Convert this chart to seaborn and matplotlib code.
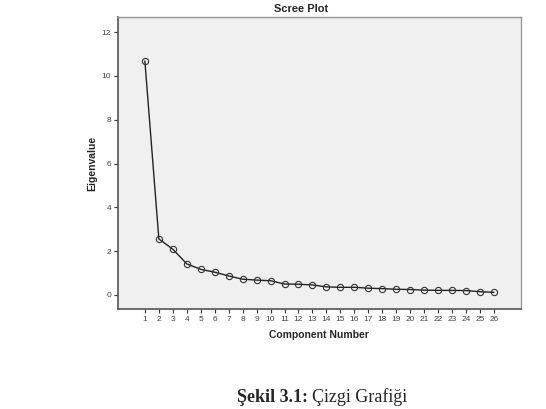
import pandas as pd
import matplotlib.pyplot as plt
import seaborn as sns

components = list(range(1, 27))
eigenvalues = [10.68, 2.56, 2.09, 1.42, 1.17, 1.04, 0.87, 0.72, 0.68, 0.65,
               0.50, 0.49, 0.46, 0.37, 0.35, 0.35, 0.31, 0.29, 0.26, 0.25,
               0.22, 0.21, 0.21, 0.20, 0.15, 0.12]
yticks = [0, 2, 4, 6, 8, 10, 12]

df = pd.DataFrame({'Component Number': components, 'Eigenvalue': eigenvalues})

sns.set_style("white")
plt.rcParams['font.family'] = ['Liberation Sans', 'DejaVu Sans']

fig = plt.figure(figsize=(5.46, 4.09), dpi=100)
ax = fig.add_axes([0.216, 0.2445, 0.738, 0.7135])
ax.set_facecolor('#f0f0f0')

sns.lineplot(data=df, x='Component Number', y='Eigenvalue', ax=ax,
             color='#222222', linewidth=1.0, marker='o', markersize=4.5,
             markerfacecolor='none', markeredgecolor='#333333', markeredgewidth=0.8)

ax.set_xlim(-0.93, 27.93)
ax.set_ylim(-0.64, 12.68)
ax.set_xticks(components)
ax.set_yticks(yticks)
ax.tick_params(axis='both', direction='out', length=3, width=0.8, color='#333333',
               labelsize=6, labelcolor='#444444', pad=2)
ax.tick_params(axis='both', which='both', bottom=True, left=True)

for side in ['left', 'bottom']:
    ax.spines[side].set_color('#555555')
    ax.spines[side].set_linewidth(1.2)
for side in ['top', 'right']:
    ax.spines[side].set_color('#999999')
    ax.spines[side].set_linewidth(1.0)

ax.set_xlabel('Component Number', fontsize=7.5, fontweight='bold', labelpad=5)
ax.set_ylabel('Eigenvalue', fontsize=7.5, fontweight='bold', labelpad=3)
ax.set_title('Scree Plot', fontsize=8, fontweight='bold', x=0.454, pad=4)

# caption under the chart
fig.text(0.565, 0.017, 'Şekil 3.1:', family='Liberation Serif', fontsize=13,
         fontweight='bold', ha='right', va='baseline')
fig.text(0.572, 0.017, 'Çizgi Grafiği', family='Liberation Serif', fontsize=13,
         ha='left', va='baseline')

fig.savefig('out.png', dpi=100)
